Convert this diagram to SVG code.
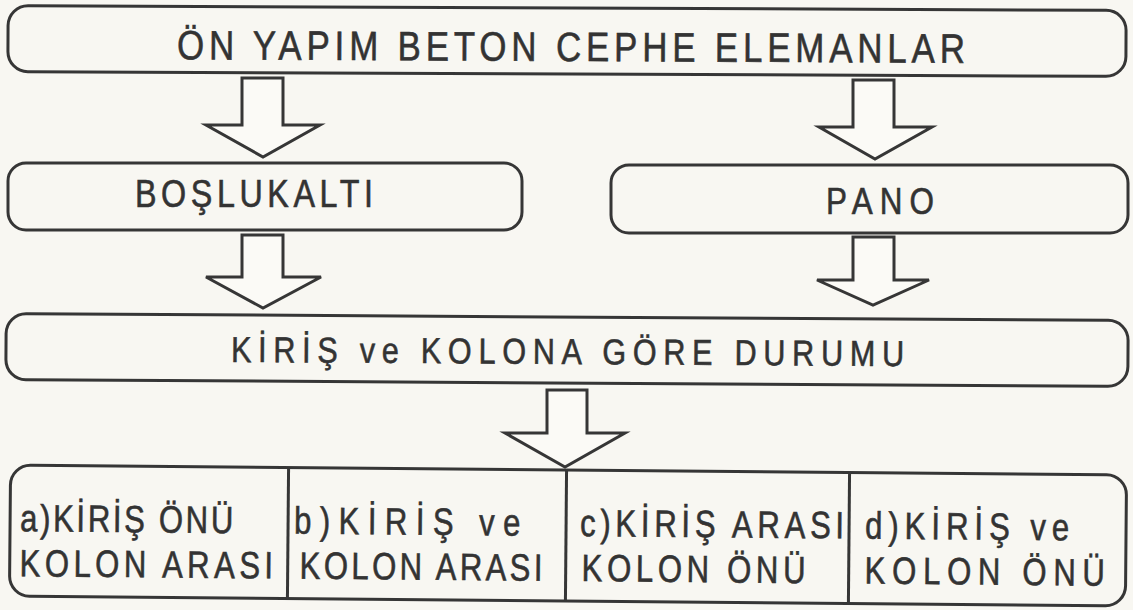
<svg xmlns="http://www.w3.org/2000/svg" width="1133" height="610" viewBox="0 0 1133 610">
<style>
.box{fill:none;stroke:#363636;stroke-width:3}
.arr{fill:#fbfaf6;stroke:#363636;stroke-width:3;stroke-linejoin:miter}
.t{font-family:"Liberation Sans","DejaVu Sans",Arial,sans-serif;fill:#333;stroke:#333;stroke-width:0.6;font-weight:normal}
.c{font-size:38px}
</style>
<rect x="0" y="0" width="1133" height="610" fill="#f8f7f2"/>
<g id="n-top" transform="rotate(0.25 567 41)">
<rect class="box" x="8" y="8" width="1118" height="66" rx="20"/>
<text class="t" transform="translate(177 61) scale(0.85 1)" font-size="41" textLength="927" lengthAdjust="spacing">ÖN YAPIM BETON CEPHE ELEMANLAR</text>
</g>
<g id="n-boslukalti">
<rect class="box" x="8" y="163" width="514" height="67" rx="18"/>
<text class="t" transform="translate(135 207) scale(0.85 1)" font-size="38" textLength="280" lengthAdjust="spacing">BOŞLUKALTI</text>
</g>
<g id="n-pano">
<rect class="box" x="611" y="165" width="517" height="68" rx="18"/>
<text class="t" transform="translate(826 214) scale(0.85 1)" font-size="37" textLength="127" lengthAdjust="spacing">PANO</text>
</g>
<g id="n-durum" transform="rotate(0.35 567 350)">
<rect class="box" x="6" y="317" width="1122" height="66" rx="20"/>
<text class="t" transform="translate(231 364) scale(0.85 1)" font-size="36" textLength="792" lengthAdjust="spacing">KİRİŞ ve KOLONA GÖRE DURUMU</text>
</g>
<g id="n-cases" transform="rotate(0.5 568 535)">
<rect class="box" x="10" y="470" width="1116" height="131" rx="20"/>
<line class="box" x1="288" y1="470" x2="288" y2="601"/>
<line class="box" x1="566" y1="470" x2="566" y2="601"/>
<line class="box" x1="849" y1="470" x2="849" y2="601"/>
<g id="n-a">
<text class="t c" transform="translate(20 536) scale(0.82 1)" textLength="260" lengthAdjust="spacing">a)KİRİŞ ÖNÜ</text>
<text class="t c" transform="translate(20 581) scale(0.82 1)" textLength="309" lengthAdjust="spacing">KOLON ARASI</text>
</g>
<g id="n-b">
<text class="t c" transform="translate(294 536) scale(0.82 1)" textLength="276" lengthAdjust="spacing">b)KİRİŞ ve</text>
<text class="t c" transform="translate(300 581) scale(0.82 1)" textLength="296" lengthAdjust="spacing">KOLON ARASI</text>
</g>
<g id="n-c">
<text class="t c" transform="translate(580 536) scale(0.82 1)" textLength="322" lengthAdjust="spacing">c)KİRİŞ ARASI</text>
<text class="t c" transform="translate(582 581) scale(0.82 1)" textLength="273" lengthAdjust="spacing">KOLON ÖNÜ</text>
</g>
<g id="n-d">
<text class="t c" transform="translate(865 536) scale(0.82 1)" textLength="249" lengthAdjust="spacing">d)KİRİŞ ve</text>
<text class="t c" transform="translate(865 581) scale(0.82 1)" textLength="293" lengthAdjust="spacing">KOLON ÖNÜ</text>
</g>
</g>
<g id="connectors">
<path class="arr" d="M242 78 H283 V125 H320 L263 157 L206 125 H242 Z"/>
<path class="arr" d="M853 80 H894 V127 H932 L875 159 L819 127 H853 Z"/>
<path class="arr" d="M242 235 H283 V277 H321 L263 308 L206 277 H242 Z"/>
<path class="arr" d="M853 237 H894 V280 H929 L873 305 L817 280 H853 Z"/>
<path class="arr" d="M547 390 H587 V433 H625 L565 467 L505 433 H547 Z"/>
</g>
</svg>
